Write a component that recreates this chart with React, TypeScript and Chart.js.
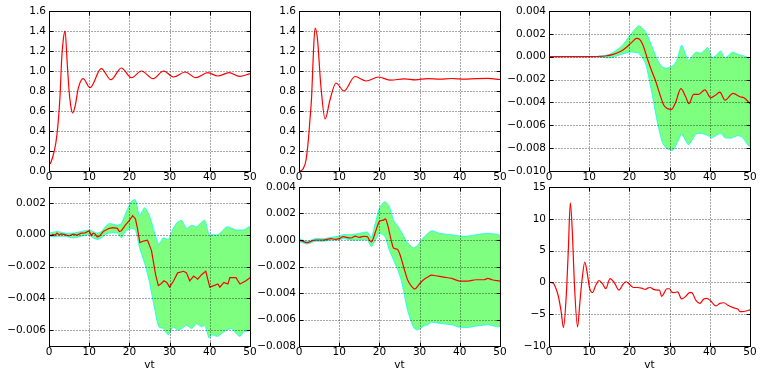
import React, { useEffect, useRef } from "react";
import { Chart, registerables } from "chart.js";

Chart.register(...registerables);

// ---------- tick labels ----------
const xTickValues = [0, 10, 20, 30, 40, 50];
const y12Ticks = [0, 0.2, 0.4, 0.6, 0.8, 1.0, 1.2, 1.4, 1.6];
const y3Ticks = [-0.01, -0.008, -0.006, -0.004, -0.002, 0, 0.002, 0.004];
const y4Ticks = [-0.006, -0.004, -0.002, 0, 0.002];
const y5Ticks = [-0.008, -0.006, -0.004, -0.002, 0, 0.002, 0.004];
const y6Ticks = [-10, -5, 0, 5, 10, 15];
const xTitle = "vt";

// ---------- panel 1 ----------
const p1Vt = [0.3, 1.0, 1.7, 2.2, 2.7, 3.2, 3.6, 4.0, 4.5, 5.0, 5.5, 5.9, 6.5, 7.3, 8.5, 10.2, 13.0, 15.4, 18.0, 20.5, 23.0, 25.9, 28.5, 31.0, 33.9, 36.5, 39.5, 42.0, 44.8, 47.4, 50];
const p1Val = [0.07, 0.15, 0.28, 0.45, 0.72, 1.15, 1.33, 1.40, 1.1, 0.8, 0.63, 0.58, 0.65, 0.83, 0.923, 0.833, 1.023, 0.913, 1.03, 0.933, 1.0, 0.923, 1.0, 0.94, 0.99, 0.933, 0.983, 0.95, 0.983, 0.947, 0.973];

// ---------- panel 2 ----------
const p2Vt = [0.3, 1.0, 1.7, 2.3, 2.7, 3.15, 3.6, 4.0, 4.6, 5.4, 6.5, 7.7, 9.2, 11.2, 13.9, 16.7, 19.8, 22.8, 26.2, 29.0, 32.0, 35.0, 38.0, 41.0, 44.0, 47.0, 50];
const p2Val = [0.0, 0.02, 0.1, 0.3, 0.5, 0.75, 1.2, 1.43, 1.32, 0.87, 0.52, 0.71, 0.88, 0.80, 0.945, 0.9, 0.94, 0.908, 0.922, 0.912, 0.924, 0.918, 0.925, 0.918, 0.924, 0.926, 0.915];

// ---------- panel 3 ----------
const p3Vt = [0, 5, 10, 12, 14, 16, 18, 19.5, 20.7, 21.8, 22.6, 23.5, 24.5, 25.5, 26.5, 27.5, 28.5, 29.3, 30.5, 31.5, 32.8, 34, 34.8, 36, 37.2, 38.8, 40.2, 41.3, 42.5, 43.8, 45.8, 47.5, 48.5, 50];
const p3Mean = [0, 0, 0, 0.00002, 0.00006, 0.0002, 0.0005, 0.0009, 0.0013, 0.0016, 0.0015, 0.0009, -0.0002, -0.0012, -0.0021, -0.0032, -0.0042, -0.0045, -0.0046, -0.004, -0.0028, -0.0035, -0.0041, -0.0033, -0.0033, -0.0029, -0.0036, -0.0034, -0.0031, -0.0038, -0.0032, -0.0035, -0.0036, -0.0041];
const p3BandVt = [0, 10, 12, 15, 18, 20, 22.3, 24, 25.5, 27, 28.2, 29.2, 30.8, 31.8, 33, 34.7, 36.5, 37.8, 39.5, 40.5, 41.5, 42.7, 43.8, 45.6, 47, 48.2, 49.6, 50];
const p3Upper = [0, 0, 0.00002, 0.0002, 0.0009, 0.0018, 0.0027, 0.0022, 0.001, -0.0003, -0.0009, -0.001, -0.0008, -0.0003, 0.001, -0.0003, 0.0004, 0.0003, 0.0008, -0.0001, 0.0001, 0.0005, -0.0001, 0.0004, 0.0002, 0.0001, -0.0001, -0.0003];
const p3Lower = [0, 0, -0.00002, -0.0001, 0.0002, 0.0004, 0.0003, -0.0006, -0.003, -0.0058, -0.0075, -0.008, -0.0082, -0.0076, -0.0068, -0.0077, -0.0068, -0.0067, -0.0069, -0.0071, -0.0069, -0.0067, -0.0071, -0.0071, -0.0069, -0.0071, -0.0078, -0.0078];

// ---------- panel 4 ----------
const p4Vt = [0, 0.5, 1, 1.5, 2, 2.5, 3, 4, 5, 6, 7, 8, 9, 10, 10.5, 11, 11.5, 12, 12.5, 13.5, 15, 16, 17, 17.5, 18, 19, 20, 20.8, 21.5, 22, 22.6, 23.5, 24.5, 25.5, 26.5, 27.2, 27.8, 28.6, 29.3, 30, 31, 32, 33.5, 34.2, 35, 36, 37, 38, 39, 40, 41, 42, 42.5, 43.5, 44.5, 45, 46.5, 47.5, 49, 50];
const p4Mean = [0, -0.00005, 0.00002, -0.00003, 0.0001, 0.0, 0.00005, 0.0, -0.00008, 0.00003, -0.00002, 0.0001, 0.00012, 0.00025, -0.00005, 0.0001, 0.00005, -0.00015, -0.0001, 0.0002, 0.0004, 0.00045, 0.0004, 0.0002, 0.00025, 0.0006, 0.0009, 0.0012, 0.001, 0.0004, -0.0005, -0.0004, -0.00035, -0.001, -0.0025, -0.0032, -0.0031, -0.0029, -0.003, -0.0033, -0.0029, -0.0024, -0.0023, -0.0024, -0.0029, -0.0026, -0.0028, -0.0025, -0.0023, -0.0033, -0.0032, -0.0031, -0.0033, -0.003, -0.0031, -0.0027, -0.0027, -0.0031, -0.0029, -0.0027];
const p4BandVt = [0, 2, 4, 6, 8, 10, 11, 12, 13, 14, 15, 17, 18, 19, 20.5, 21.5, 22.5, 23.8, 25, 26.3, 27.3, 28.4, 29.7, 30.9, 32, 33, 34.2, 35.5, 36.7, 38, 38.8, 39.8, 40.5, 42, 43, 44.2, 45.5, 46.5, 47.5, 48.5, 50];
const p4Upper = [0.0001, 0.0002, 0.0001, 0.0001, 0.0002, 0.0003, 0.0002, 0.0001, 0.0002, 0.0005, 0.0007, 0.0006, 0.0007, 0.0013, 0.0021, 0.0022, 0.0012, 0.0017, 0.0012, 0.0001, -0.0006, -0.0002, -0.0003, 0.0004, 0.0008, 0.0009, 0.0004, 0.0006, 0.0005, 0.0008, 0.0009, 0.0, 0.0, 0.0, 0.0002, 0.0005, 0.0004, 0.0003, 0.0003, 0.0003, 0.0005];
const p4Lower = [-0.0001, -0.0001, -0.0001, -0.0002, -0.0001, 0.0, -0.0002, -0.0003, -0.0002, 0.0, 0.0001, 0.0001, -0.0002, 0.0002, 0.0004, 0.0003, -0.0008, -0.0018, -0.003, -0.0047, -0.0058, -0.0059, -0.0063, -0.0058, -0.006, -0.0059, -0.0057, -0.0059, -0.0056, -0.0058, -0.0057, -0.0065, -0.0063, -0.0064, -0.0062, -0.006, -0.0059, -0.0062, -0.0064, -0.0061, -0.006];

// ---------- panel 5 ----------
const p5Vt = [0, 1, 2, 3, 4, 6, 8, 9, 10, 11, 12, 13, 14, 15, 16, 17, 17.5, 18, 19, 20, 21, 21.5, 22, 23, 23.5, 24.5, 25, 26, 27, 28, 28.8, 30, 31, 32, 33, 34, 36, 38, 40, 42, 44, 46, 47, 48, 50];
const p5Mean = [0, -0.0001, -0.0002, -0.0001, 0.0, 0.0, 0.0001, 0.00005, 0.0001, 0.00025, 0.00018, 0.00015, 0.0003, 0.0002, 0.00028, 0.00025, 0.0, -0.00015, 0.0006, 0.0014, 0.0015, 0.0016, 0.0012, -0.0001, -0.0006, -0.0007, -0.001, -0.002, -0.003, -0.0035, -0.0037, -0.0033, -0.003, -0.0028, -0.00265, -0.0027, -0.0028, -0.0029, -0.0031, -0.0031, -0.003, -0.003, -0.0029, -0.003, -0.0031];
const p5BandVt = [0, 2, 4, 6, 8, 10, 11, 13, 15, 17, 18, 19, 20, 21.3, 22.5, 23.5, 24.5, 25.5, 27, 28.5, 29.5, 31, 32, 33, 35, 38, 40, 42, 44, 47, 50];
const p5Upper = [0.0001, -0.0001, 0.0001, 0.0001, 0.0002, 0.0003, 0.0004, 0.0004, 0.0005, 0.0006, 0.0002, 0.0013, 0.0024, 0.0029, 0.0025, 0.0015, 0.0011, 0.0006, -0.0002, -0.0006, -0.0004, 0.0002, 0.0005, 0.0007, 0.0005, 0.0004, 0.0003, 0.0003, 0.0004, 0.0005, 0.0003];
const p5Lower = [-0.0001, -0.0003, -0.0001, -0.0001, 0.0, 0.0, 0.0001, 0.0, 0.0, 0.0, -0.0005, 0.0, 0.0005, 0.0003, -0.0008, -0.0015, -0.0022, -0.0031, -0.0053, -0.0066, -0.0068, -0.0065, -0.0064, -0.0062, -0.0063, -0.0064, -0.0066, -0.0066, -0.0065, -0.0064, -0.0065];

// ---------- panel 6 ----------
const p6Vt = [0, 1, 1.5, 2.3, 3, 3.6, 4.3, 4.8, 5.3, 5.8, 6.3, 7.1, 7.7, 8.2, 8.9, 9.5, 10.1, 10.8, 11.6, 12.4, 13.4, 14.1, 15.2, 16.2, 17.4, 18.4, 19.2, 20.5, 21, 22, 23, 24, 24.5, 25.2, 26, 27, 27.5, 28, 28.5, 29.3, 30, 30.5, 31, 32, 33, 34, 35, 35.5, 36.5, 37.5, 38.5, 39.3, 40.5, 41.5, 42.5, 43.5, 44.5, 46, 46.5, 47, 47.5, 48, 49, 50];
const p6Val = [0, -0.1, -0.6, -2.1, -4.5, -7.1, -2, 5, 12.5, 8, 0, -7, -3, 0.3, 3.2, 1.5, -0.9, -1.6, -0.5, 0.3, -0.3, -1.0, 0.6, 0, -1.2, -0.3, 0.1, -0.6, -0.8, -0.8, -0.9, -1.1, -0.9, -0.8, -1.1, -1.2, -1.2, -2.2, -1.8, -1.0, -1.0, -1.5, -1.6, -1.5, -2.6, -2.2, -1.6, -1.6, -2.8, -3.3, -2.6, -2.5, -3.1, -3.7, -3.3, -3.2, -3.6, -4.0, -4.1, -4.2, -4.6, -4.6, -4.5, -4.3];

// ---------- styles ----------
const RED = "#ff0000";
const GREEN = "#7fff7f";
const CYAN = "#00ffff";
const FONT_FAMILY = "'DejaVu Sans', sans-serif";
const FONT_SIZE = 10.5;

Chart.defaults.font.family = FONT_FAMILY;
Chart.defaults.font.size = FONT_SIZE;
Chart.defaults.color = "#000";

const pts = (xs: number[], ys: number[]) => xs.map((x, i) => ({ x, y: ys[i] }));

// closed outline: upper edge left->right, lower edge right->left, back to start
const bandPolygon = (xs: number[], lo: number[], hi: number[]) => {
  const up = pts(xs, hi);
  const down = pts(xs, lo).reverse();
  return [...up, ...down, up[0]];
};

const fmt = (v: number, d: number) => {
  const s = Math.abs(v).toFixed(d);
  return (v < -1e-12 ? "\u2212" : "") + s;
};

const framePlugin = {
  id: "mplFrame",
  afterDatasetsDraw(chart: any) {
    const { ctx, chartArea: a, scales } = chart;
    const L = Math.round(a.left) + 0.5;
    const R = Math.round(a.right) + 0.5;
    const T = Math.round(a.top) + 0.5;
    const B = Math.round(a.bottom) + 0.5;
    ctx.save();
    // dotted grid
    ctx.strokeStyle = "rgba(0,0,0,0.7)";
    ctx.lineWidth = 1;
    ctx.setLineDash([1, 2]);
    const xs = scales.x.ticks.map((t: any) => Math.round(scales.x.getPixelForValue(t.value)) + 0.5);
    const ys = scales.y.ticks.map((t: any) => Math.round(scales.y.getPixelForValue(t.value)) + 0.5);
    ctx.beginPath();
    xs.forEach((x: number) => {
      if (x > L + 1 && x < R - 1) {
        ctx.moveTo(x, T);
        ctx.lineTo(x, B);
      }
    });
    ys.forEach((y: number) => {
      if (y > T + 1 && y < B - 1) {
        ctx.moveTo(L, y);
        ctx.lineTo(R, y);
      }
    });
    ctx.stroke();
    ctx.setLineDash([]);
    // inward ticks
    ctx.strokeStyle = "#000";
    ctx.beginPath();
    const tl = 4;
    xs.forEach((x: number) => {
      ctx.moveTo(x, B);
      ctx.lineTo(x, B - tl);
      ctx.moveTo(x, T);
      ctx.lineTo(x, T + tl);
    });
    ys.forEach((y: number) => {
      ctx.moveTo(L, y);
      ctx.lineTo(L + tl, y);
      ctx.moveTo(R, y);
      ctx.lineTo(R - tl, y);
    });
    ctx.stroke();
    // frame
    ctx.strokeRect(L, T, R - L, B - T);
    ctx.restore();
  },
};

type PanelCfg = {
  left: number;
  top: number;
  height: number;
  xAxisH: number;
  title: string;
  yMin: number;
  yMax: number;
  yTicks: number[];
  decimals: number;
  datasets: any[];
};

const meanLine = (xs: number[], ys: number[], smooth = true) => ({
  data: pts(xs, ys),
  borderColor: RED,
  borderWidth: 1.2,
  pointRadius: 0,
  fill: false,
  cubicInterpolationMode: smooth ? "monotone" : "default",
  tension: 0,
  order: 0,
});

const band = (xs: number[], lo: number[], hi: number[]) => ({
  data: bandPolygon(xs, lo, hi),
  borderColor: CYAN,
  borderWidth: 0.8,
  backgroundColor: GREEN,
  pointRadius: 0,
  fill: "shape",
  tension: 0.2,
  order: 1,
});

const TOP_H = 191;
const BOT_H = 200;
const CANVAS_W = 262;

const panels: PanelCfg[] = [
  { left: 0, top: 0, height: TOP_H, xAxisH: 20, title: "", yMin: 0, yMax: 1.6, yTicks: y12Ticks, decimals: 1, datasets: [meanLine(p1Vt, p1Val)] },
  { left: 250, top: 0, height: TOP_H, xAxisH: 20, title: "", yMin: 0, yMax: 1.6, yTicks: y12Ticks, decimals: 1, datasets: [meanLine(p2Vt, p2Val)] },
  { left: 500, top: 0, height: TOP_H, xAxisH: 20, title: "", yMin: -0.01, yMax: 0.004, yTicks: y3Ticks, decimals: 3, datasets: [band(p3BandVt, p3Lower, p3Upper), meanLine(p3Vt, p3Mean)] },
  { left: 0, top: 176, height: BOT_H, xAxisH: 30, title: xTitle, yMin: -0.007, yMax: 0.003, yTicks: y4Ticks, decimals: 3, datasets: [band(p4BandVt, p4Lower, p4Upper), meanLine(p4Vt, p4Mean, false)] },
  { left: 250, top: 176, height: BOT_H, xAxisH: 30, title: xTitle, yMin: -0.008, yMax: 0.004, yTicks: y5Ticks, decimals: 3, datasets: [band(p5BandVt, p5Lower, p5Upper), meanLine(p5Vt, p5Mean)] },
  { left: 500, top: 176, height: BOT_H, xAxisH: 30, title: xTitle, yMin: -10, yMax: 15, yTicks: y6Ticks, decimals: 0, datasets: [meanLine(p6Vt, p6Val)] },
];

function Panel({ cfg }: { cfg: PanelCfg }) {
  const ref = useRef<HTMLCanvasElement>(null);
  useEffect(() => {
    const chart = new Chart(ref.current as HTMLCanvasElement, {
      type: "line",
      data: { datasets: cfg.datasets },
      options: {
        animation: false,
        responsive: false,
        devicePixelRatio: 1,
        layout: { padding: { top: 11, right: 12, left: 0, bottom: 0 } },
        plugins: {
          legend: { display: false },
          tooltip: { enabled: false },
        },
        scales: {
          x: {
            type: "linear",
            min: 0,
            max: 50,
            grid: { display: false, drawTicks: false, tickLength: 0 },
            border: { display: false },
            afterBuildTicks: (s: any) => {
              s.ticks = xTickValues.map((v) => ({ value: v }));
            },
            afterFit: (s: any) => {
              s.height = cfg.xAxisH;
            },
            ticks: {
              autoSkip: false,
              maxRotation: 0,
              padding: 0,
              color: "#000",
              callback: (v: any) => String(v),
            },
            title: {
              display: !!cfg.title,
              text: cfg.title,
              color: "#000",
              padding: { top: 0, bottom: 4 },
            },
          },
          y: {
            type: "linear",
            min: cfg.yMin,
            max: cfg.yMax,
            grid: { display: false, drawTicks: false, tickLength: 0 },
            border: { display: false },
            afterBuildTicks: (s: any) => {
              s.ticks = cfg.yTicks.map((v) => ({ value: v }));
            },
            afterFit: (s: any) => {
              s.width = 49;
            },
            ticks: {
              autoSkip: false,
              padding: 3,
              color: "#000",
              callback: (v: any) => fmt(Number(v), cfg.decimals),
            },
          },
        },
      },
      plugins: [framePlugin],
    } as any);
    return () => chart.destroy();
  }, []);
  return (
    <canvas
      ref={ref}
      width={CANVAS_W}
      height={cfg.height}
      style={{ position: "absolute", left: cfg.left, top: cfg.top, width: CANVAS_W, height: cfg.height }}
    />
  );
}

export default function App() {
  return (
    <div style={{ position: "absolute", left: 0, top: 0, width: 763, height: 376, background: "#fff", overflow: "hidden" }}>
      {panels.map((p, i) => (
        <Panel key={i} cfg={p} />
      ))}
    </div>
  );
}
